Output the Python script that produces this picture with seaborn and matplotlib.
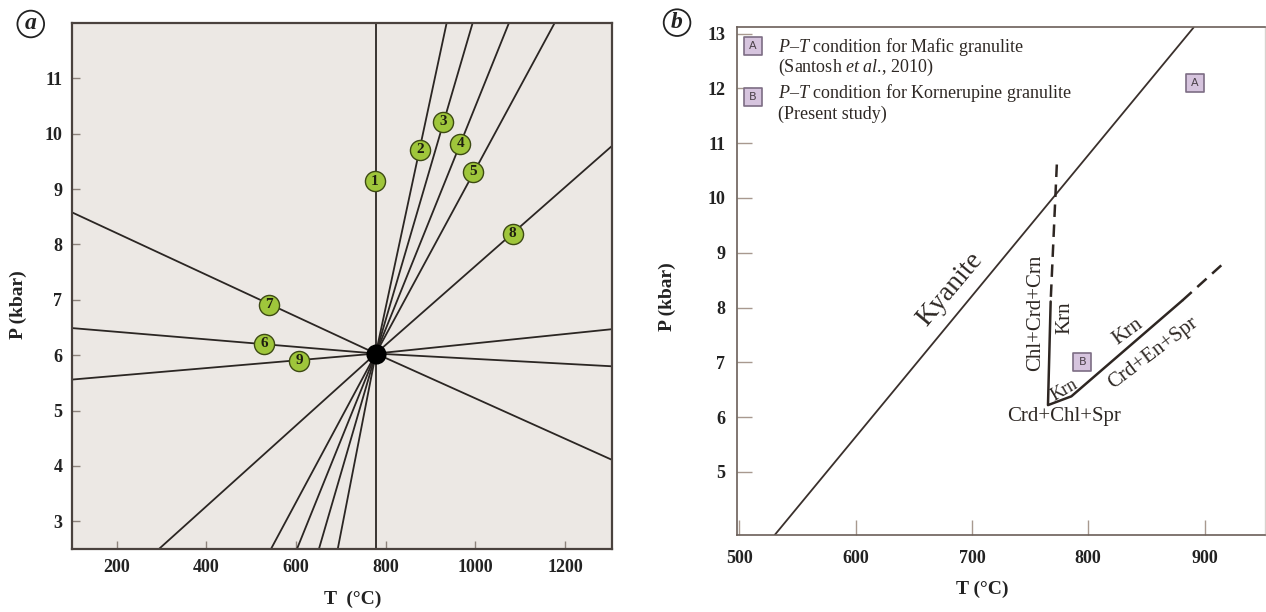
import numpy as np
import pandas as pd
import seaborn as sns
import matplotlib.pyplot as plt

# ---- panel a : invariant point with nine reaction lines ----
inv_T = 778
inv_P = 6.03
rxn_id = [1, 2, 3, 4, 5, 6, 7, 8, 9]
rxn_T_start = [778, 693, 651, 602, 544, 100, 100, 294, 100]
rxn_P_start = [2.5, 2.5, 2.5, 2.5, 2.5, 6.49, 8.58, 2.5, 5.56]
rxn_T_end = [778, 936, 994, 1075, 1177, 1305, 1305, 1305, 1305]
rxn_P_end = [12.0, 12.0, 12.0, 12.0, 12.0, 5.80, 4.11, 9.78, 6.47]
# numbered circles on the lines
lab_T = [776, 876, 928, 966, 995, 529, 540, 1083, 607]
lab_P = [9.14, 9.71, 10.22, 9.82, 9.31, 6.21, 6.91, 8.19, 5.90]

# ---- panel b : kornerupine stability ----
kyanite_T = [530.4, 890.6]
kyanite_P = [3.85, 13.11]
krn_T = [767.7, 765.4, 785.5, 881.0]
krn_P = [8.11, 6.22, 6.38, 8.13]
dash1_T = [773.0, 767.7]
dash1_P = [10.61, 8.11]
dash2_T = [881.0, 914.4]
dash2_P = [8.13, 8.77]
pt_name = ["A", "B"]
pt_T = [891.5, 795.0]
pt_P = [12.1, 7.0]

sns.set_style("ticks")
plt.rcParams["font.family"] = ["Liberation Serif", "DejaVu Serif"]
plt.rcParams["mathtext.fontset"] = "custom"
plt.rcParams["mathtext.rm"] = "Liberation Serif"
plt.rcParams["mathtext.it"] = "Liberation Serif:italic"

fig = plt.figure(figsize=(12.66, 6.12), dpi=100)
ax1 = fig.add_axes([0.05687, 0.10294, 0.42654, 0.85948])
ax2 = fig.add_axes([0.58215, 0.12582, 0.41706, 0.82925])

line_col = "#2b2623"

# lines a
rows = []
for i in range(len(rxn_id)):
    rows.append((rxn_id[i], rxn_T_start[i], rxn_P_start[i]))
    rows.append((rxn_id[i], inv_T, inv_P))
    rows.append((rxn_id[i], rxn_T_end[i], rxn_P_end[i]))
lines_a = pd.DataFrame(rows, columns=["rxn", "T", "P"])
labels_a = pd.DataFrame({"rxn": rxn_id, "T": lab_T, "P": lab_P})

ax1.set_facecolor("#ece8e4")
sns.lineplot(data=lines_a, x="T", y="P", units="rxn", estimator=None, sort=False,
             color=line_col, lw=1.3, ax=ax1)
sns.scatterplot(x=[inv_T], y=[inv_P], s=180, color="black", edgecolor="black",
                ax=ax1, zorder=4)
sns.scatterplot(data=labels_a, x="T", y="P", s=210, color="#9fc63b",
                edgecolor="#3d4a14", linewidth=1.0, ax=ax1, zorder=5)
for n, t, p in zip(rxn_id, lab_T, lab_P):
    ax1.text(t, p, str(n), ha="center", va="center", fontsize=11,
             fontweight="bold", color="#1e1e10", zorder=6)

ax1.set_xlim(100, 1305)
ax1.set_ylim(2.5, 12.0)
ax1.set_xticks([200, 400, 600, 800, 1000, 1200],
               labels=["200", "400", "600", "800", "1000", "1200"], fontweight="bold")
ax1.set_yticks([3, 4, 5, 6, 7, 8, 9, 10, 11],
               labels=["3", "4", "5", "6", "7", "8", "9", "10", "11"], fontweight="bold")
ax1.tick_params(direction="in", length=6, width=1, color="#8d837c", labelsize=13,
                labelcolor="#222", pad=7)
for s in ax1.spines.values():
    s.set_color("#4a423e")
    s.set_linewidth(1.6)
ax1.set_xlabel("T  (°C)", fontsize=14, fontweight="bold", color="#222")
ax1.set_ylabel("P (kbar)", fontsize=14, fontweight="bold", color="#222")
ax1.xaxis.set_label_coords(0.52, -0.08)
ax1.yaxis.set_label_coords(-0.083, 0.464)

# panel b
ax2.set_facecolor("white")
sns.lineplot(x=kyanite_T, y=kyanite_P, sort=False, color="#3a302c", lw=1.3, ax=ax2)
sns.lineplot(x=krn_T, y=krn_P, sort=False, color="#2e2622", lw=1.8, ax=ax2)
sns.lineplot(x=dash1_T, y=dash1_P, sort=False, color="#2e2622", lw=1.8,
             linestyle=(0, (5, 3)), ax=ax2)
sns.lineplot(x=dash2_T, y=dash2_P, sort=False, color="#2e2622", lw=1.8,
             linestyle=(0, (5, 3)), ax=ax2)
sns.scatterplot(x=pt_T, y=pt_P, marker="s", s=170, color="#d6c4de",
                edgecolor="#7d6d84", linewidth=1.2, ax=ax2, zorder=4)
for n, t, p in zip(pt_name, pt_T, pt_P):
    ax2.text(t, p, n, ha="center", va="center", fontsize=8, family="DejaVu Sans",
             color="#4a4048", zorder=5)

txt_col = "#2e2824"
ax2.text(681, 8.33, "Kyanite", rotation=50, fontsize=20, ha="center", va="center",
         color=txt_col, rotation_mode="anchor")
ax2.text(754.8, 7.9, "Chl+Crd+Crn", rotation=90, fontsize=15, ha="center", va="center",
         color=txt_col)
ax2.text(779.7, 7.82, "Krn", rotation=90, fontsize=15, ha="center", va="center",
         color=txt_col)
ax2.text(834, 7.55, "Krn", rotation=36, fontsize=15, ha="center", va="center",
         color=txt_col, rotation_mode="anchor")
ax2.text(855.5, 7.17, "Crd+En+Spr", rotation=37, fontsize=15, ha="center", va="center",
         color=txt_col, rotation_mode="anchor")
ax2.text(779.7, 6.49, "Krn", rotation=30, fontsize=13, ha="center", va="center",
         color=txt_col, rotation_mode="anchor")
ax2.text(778.8, 6.01, "Crd+Chl+Spr", fontsize=15, ha="center", va="center",
         color=txt_col)

# legend block
ax2.scatter([0.0297, 0.0297], [0.963, 0.863], marker="s", s=150, color="#d6c4de",
            edgecolor="#7d6d84", linewidth=1.2, transform=ax2.transAxes, zorder=4)
ax2.text(0.0297, 0.963, "A", transform=ax2.transAxes, ha="center", va="center",
         fontsize=8, family="DejaVu Sans", color="#4a4048", zorder=5)
ax2.text(0.0297, 0.863, "B", transform=ax2.transAxes, ha="center", va="center",
         fontsize=8, family="DejaVu Sans", color="#4a4048", zorder=5)
ax2.text(0.0775, 0.961, r"$P$–$T$ condition for Mafic granulite", transform=ax2.transAxes,
         ha="left", va="center", fontsize=13, color=txt_col)
ax2.text(0.0775, 0.921, r"(Santosh $et$ $al$., 2010)", transform=ax2.transAxes,
         ha="left", va="center", fontsize=13, color=txt_col)
ax2.text(0.0775, 0.870, r"$P$–$T$ condition for Kornerupine granulite",
         transform=ax2.transAxes, ha="left", va="center", fontsize=13, color=txt_col)
ax2.text(0.0775, 0.828, "(Present study)", transform=ax2.transAxes,
         ha="left", va="center", fontsize=13, color=txt_col)

ax2.set_xlim(498, 952)
ax2.set_ylim(3.85, 13.11)
ax2.set_xticks([500, 600, 700, 800, 900],
               labels=["500", "600", "700", "800", "900"], fontweight="bold")
ax2.set_yticks([5, 6, 7, 8, 9, 10, 11, 12, 13],
               labels=["5", "6", "7", "8", "9", "10", "11", "12", "13"], fontweight="bold")
ax2.tick_params(direction="in", length=11, width=1, color="#a8998f", labelsize=13,
                labelcolor="#222")
ax2.tick_params(axis="x", pad=11)
ax2.tick_params(axis="y", pad=8.5)
for k in ["top", "left", "bottom"]:
    ax2.spines[k].set_color("#6b5f59")
    ax2.spines[k].set_linewidth(1.2)
ax2.spines["right"].set_color("#d8d2ce")
ax2.spines["right"].set_linewidth(1.0)
ax2.set_xlabel("T (°C)", fontsize=14, fontweight="bold", color="#222")
ax2.set_ylabel("P (kbar)", fontsize=14, fontweight="bold", color="#222")
ax2.xaxis.set_label_coords(0.464, -0.091)
ax2.yaxis.set_label_coords(-0.116, 0.47)

# panel letters
fig.text(0.0243, 0.9608, "a", ha="center", va="center", fontsize=17, fontweight="bold",
         style="italic", color="#222",
         bbox=dict(boxstyle="circle,pad=0.12", fc="none", ec="#222", lw=1.3))
fig.text(0.5348, 0.963, "b", ha="center", va="center", fontsize=17, fontweight="bold",
         style="italic", color="#222",
         bbox=dict(boxstyle="circle,pad=0.12", fc="none", ec="#222", lw=1.3))

fig.savefig("out.png", dpi=100)
